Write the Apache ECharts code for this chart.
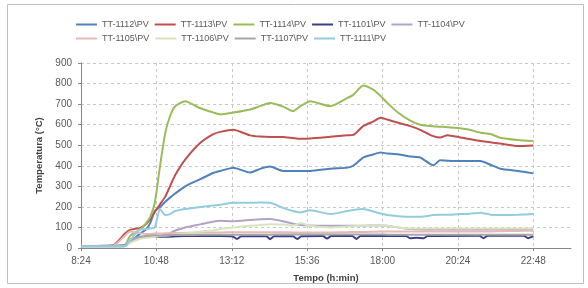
<!DOCTYPE html>
<html>
<head>
<meta charset="utf-8">
<script src="https://cdn.jsdelivr.net/npm/echarts@6/dist/echarts.min.js"></script>
<style>
  html, body { margin: 0; padding: 0; background: #fff; }
  #chart { width: 588px; height: 288px; }
</style>
</head>
<body>
<div id="chart"></div>
<script>
// tempi di campionamento (ora:minuti)
const times = ['8:24', '9:24', '9:48', '9:58', '10:17', '10:28', '10:36', '10:45', '10:55', '11:05',
    '11:14', '11:24', '11:43', '12:12', '12:36', '12:50', '13:15', '13:47', '14:06', '14:25',
    '14:50', '15:09', '15:23', '15:42', '16:20', '16:53', '17:04', '17:23', '17:42', '17:56',
    '18:09', '18:30', '18:53', '19:12', '19:37', '19:50', '20:04', '20:29', '20:42', '21:07',
    '21:26', '21:45', '22:18', '22:48'];

const tt1112 = [8, 8, 10, 30, 70, 90, 120, 180, 200, 225, 245, 265, 300, 335, 365, 375, 391, 367, 385, 396,
    375, 375, 375, 375, 386, 391, 400, 440, 455, 464, 460, 456, 445, 440, 402, 427, 425, 423, 423, 423,
    405, 386, 375, 363];
const tt1113 = [10, 12, 70, 88, 98, 115, 140, 175, 213, 250, 300, 355, 430, 512, 553, 565, 575, 548, 542, 540,
    540, 535, 532, 533, 541, 548, 550, 593, 615, 634, 625, 609, 593, 575, 544, 537, 549, 538, 532, 520,
    515, 508, 496, 499];
const tt1114 = [10, 10, 15, 60, 90, 120, 150, 220, 400, 560, 641, 690, 714, 680, 660, 650, 659, 674, 690, 705,
    688, 666, 690, 714, 690, 730, 745, 790, 770, 740, 706, 658, 620, 600, 592, 590, 588, 582, 578, 561,
    555, 536, 525, 520];
const tt1104 = [8, 8, 10, 30, 50, 55, 55, 58, 60, 65, 72, 85, 100, 115, 128, 133, 130, 136, 140, 141,
    130, 118, 112, 110, 108, 108, 108, 108, 110, 110, 108, 100, 92, 90, 90, 90, 90, 90, 90, 90,
    90, 90, 90, 90];
const tt1105 = [10, 10, 60, 80, 72, 68, 68, 70, 70, 72, 72, 73, 74, 75, 76, 76, 77, 77, 77, 77,
    77, 76, 76, 76, 76, 77, 78, 78, 79, 80, 80, 80, 80, 80, 80, 80, 80, 80, 80, 80,
    80, 82, 83, 84];
const tt1106 = [8, 8, 10, 25, 45, 50, 52, 55, 58, 60, 62, 65, 70, 80, 85, 92, 100, 108, 112, 116,
    114, 110, 120, 108, 100, 105, 106, 108, 110, 110, 108, 100, 95, 95, 95, 95, 95, 95, 95, 95,
    95, 95, 95, 95];
const tt1107 = [10, 10, 12, 40, 55, 58, 60, 62, 60, 62, 63, 63, 63, 64, 64, 65, 65, 65, 65, 65,
    66, 66, 66, 66, 66, 66, 66, 66, 66, 66, 65, 65, 65, 65, 65, 65, 65, 65, 65, 65,
    65, 65, 65, 65];
const tt1111 = [8, 8, 10, 40, 90, 92, 95, 100, 190, 160, 165, 180, 190, 200, 207, 210, 220, 220, 221, 220,
    195, 180, 173, 184, 165, 180, 185, 190, 178, 168, 160, 155, 152, 152, 160, 162, 162, 165, 165, 172,
    162, 160, 162, 165];

// TT-1101 ha dei piccoli cali, campionato a parte
const times1101 = ['8:24', '9:48', '9:58', '10:17', '10:36', '10:55', '11:43', '12:50', '13:14', '13:22',
    '13:30', '14:18', '14:25', '14:33', '15:09', '15:17', '15:25', '16:06', '16:14', '16:22',
    '17:02', '17:10', '17:18', '18:45', '18:53', '19:05', '19:18', '19:26', '21:05', '21:13',
    '21:21', '22:30', '22:38', '22:48'];
const tt1101 = [10, 12, 30, 50, 60, 55, 58, 58, 56, 44, 57, 57, 43, 57, 57, 44, 57, 58, 46, 58,
    58, 44, 58, 58, 47, 50, 47, 58, 60, 48, 60, 60, 48, 58];

const START = 8 * 60 + 24;   // asse x in minuti dopo le 8:24
const STEP = 144;            // 2h24

function toMin(s) {
    const p = s.split(':');
    return +p[0] * 60 + +p[1] - START;
}
function fmtTime(v) {
    const m = v + START;
    const h = Math.floor(m / 60) % 24;
    const mm = m % 60;
    return h + ':' + (mm < 10 ? '0' : '') + mm;
}
function pairs(ts, vals) {
    return ts.map((t, i) => [toMin(t), vals[i]]);
}

const seriesDefs = [
    { name: 'TT-1112\\PV', data: pairs(times, tt1112), color: '#4f81bd' },
    { name: 'TT-1113\\PV', data: pairs(times, tt1113), color: '#c0504d' },
    { name: 'TT-1114\\PV', data: pairs(times, tt1114), color: '#9bbb59' },
    { name: 'TT-1101\\PV', data: pairs(times1101, tt1101), color: '#3b3d8a' },
    { name: 'TT-1104\\PV', data: pairs(times, tt1104), color: '#b3a2c7' },
    { name: 'TT-1105\\PV', data: pairs(times, tt1105), color: '#e6b9b8' },
    { name: 'TT-1106\\PV', data: pairs(times, tt1106), color: '#d7e4bd' },
    { name: 'TT-1107\\PV', data: pairs(times, tt1107), color: '#a6a6a6' },
    { name: 'TT-1111\\PV', data: pairs(times, tt1111), color: '#93cddd' }
];

const FONT = 'Liberation Sans';
const legendBase = {
    left: 76,
    padding: 0,
    orient: 'horizontal',
    icon: 'rect',
    itemWidth: 21,
    itemHeight: 2,
    itemGap: 6,
    textStyle: { fontFamily: FONT, fontSize: 9, color: '#595959', width: 49 }
};

const chart = echarts.init(document.getElementById('chart'));
chart.setOption({
    animation: false,
    backgroundColor: '#fff',
    color: seriesDefs.map(s => s.color),
    graphic: [{
        type: 'rect',
        shape: { x: 7.5, y: 4.5, width: 576, height: 279 },
        style: { fill: 'none', stroke: '#c0c0c0', lineWidth: 1 }
    }],
    legend: [
        Object.assign({}, legendBase, { top: 20, data: seriesDefs.slice(0, 5).map(s => s.name) }),
        Object.assign({}, legendBase, { top: 34, data: seriesDefs.slice(5).map(s => s.name) })
    ],
    grid: { left: 81, right: 17, top: 63, bottom: 39 },
    xAxis: {
        type: 'value',
        min: 0,
        max: 936,
        interval: STEP,
        name: 'Tempo (h:min)',
        nameLocation: 'middle',
        nameGap: 25,
        nameTextStyle: { fontFamily: FONT, fontSize: 9.5, fontWeight: 'bold', color: '#404040' },
        axisLine: { lineStyle: { color: '#868686' } },
        axisTick: { show: true, length: 3, lineStyle: { color: '#868686' } },
        axisLabel: {
            fontFamily: FONT, fontSize: 10, color: '#595959', margin: 8,
            showMaxLabel: false,
            formatter: v => (v % STEP === 0 ? fmtTime(v) : '')
        },
        splitLine: { show: true, showMaxLine: false, lineStyle: { color: '#c8c8c8', type: [3, 3] } }
    },
    yAxis: {
        type: 'value',
        min: 0,
        max: 900,
        interval: 100,
        name: 'Temperatura (°C)',
        nameLocation: 'middle',
        nameGap: 32,
        nameTextStyle: { fontFamily: FONT, fontSize: 9.5, fontWeight: 'bold', color: '#404040' },
        axisLine: { show: true, lineStyle: { color: '#868686' } },
        axisTick: { show: true, length: 3, lineStyle: { color: '#868686' } },
        axisLabel: { fontFamily: FONT, fontSize: 10, color: '#595959', margin: 9 },
        splitLine: { show: true, lineStyle: { color: '#c8c8c8', type: [3, 3] } }
    },
    series: seriesDefs.map(s => ({
        name: s.name,
        type: 'line',
        data: s.data,
        symbol: 'none',
        smooth: 0.2,
        lineStyle: { width: 2, color: s.color }
    }))
});
</script>
</body>
</html>
